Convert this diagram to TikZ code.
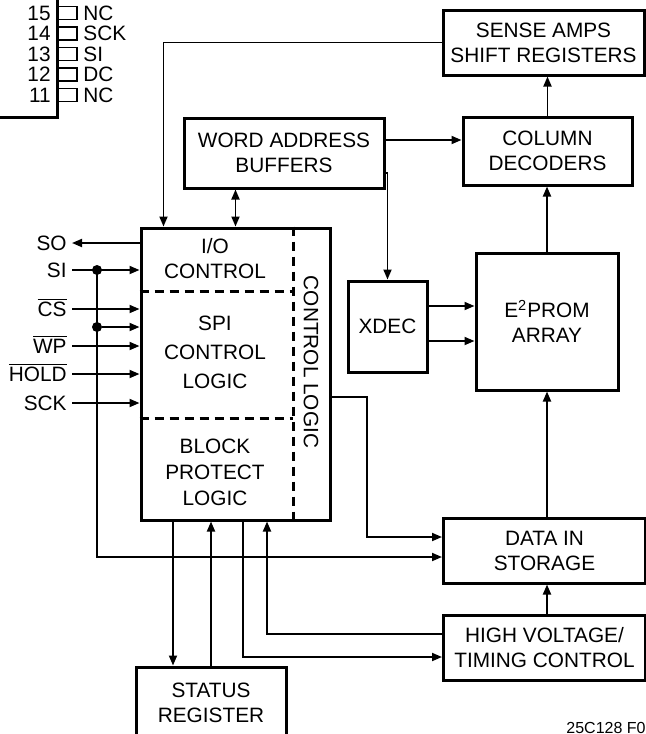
\documentclass[tikz,border=0pt]{standalone}
\usepackage{fontspec}
\setmainfont{Liberation Sans}
\usetikzlibrary{arrows.meta,positioning,calc}

\begin{document}
\begin{tikzpicture}[x=0.5pt, y=-0.5pt,
  font=\fontsize{10.4}{12.5}\selectfont,
  blk/.style={draw, line width=1.5pt, inner sep=0pt, align=center},
  divider/.style={line width=1.5pt, dash pattern=on 4.5pt off 3pt},
  wire/.style={line width=0.9pt},
  arr/.style={wire, -{Triangle[length=5pt,width=4pt]}},
  biarr/.style={wire, {Triangle[length=5pt,width=4pt]}-{Triangle[length=5pt,width=4pt]}},
  pinlbl/.style={anchor=east, inner sep=2.5pt, text height=8.5pt, text depth=1pt},
  dot/.style={circle, fill, inner sep=0pt, minimum size=5pt}]
  \useasboundingbox (0,0) rectangle (646,734);
  \clip (0,0) rectangle (646,734);
  % Device package corner
  \draw[line width=1.5pt] (57,-5) -- (57,117) -- (-5,117);
  \foreach \num/\lbl [count=\i from 0] in {15/NC,14/SCK,13/SI,12/DC,11/NC}{
    \draw[wire] (57,13+\i*20.5-6.5) -- (77,13+\i*20.5-6.5)
      -- (77,13+\i*20.5+6.5) -- (57,13+\i*20.5+6.5);
    \node[anchor=east, inner sep=2pt] (pn\num) at (55,13+\i*20.5) {\num};
    \node[anchor=west, inner sep=2pt] (pl\num) at (79,13+\i*20.5) {\lbl};
  }
  % Blocks
  \node[blk, minimum width=100.5pt, minimum height=32.5pt] (sense) at (543.5,42.5)
    {SENSE AMPS\\SHIFT REGISTERS};
  \node[blk, minimum width=100pt, minimum height=35pt] (wab) at (284,153)
    {WORD ADDRESS\\BUFFERS};
  \node[blk, minimum width=84.5pt, minimum height=34pt] (col) at (547.5,151)
    {COLUMN\\DECODERS};
  \node[blk, minimum width=39.5pt, minimum height=45.5pt] (xdec) at (387.5,326.5) {XDEC};
  \node[blk, minimum width=71pt, minimum height=68.5pt] (eep) at (547,321.5)
    {E\textsuperscript{2}PROM\\ARRAY};
  \node[blk, minimum width=94.5pt, minimum height=146pt] (ctrl) at (235.5,374) {};
  \node[blk, minimum width=101pt, minimum height=32.5pt] (data) at (544.5,550.5)
    {DATA IN\\STORAGE};
  \node[blk, minimum width=101pt, minimum height=32.5pt] (hv) at (544.5,647.5)
    {HIGH VOLTAGE/\\TIMING CONTROL};
  \node[blk, minimum width=75pt, minimum height=36pt] (status) at (211,703)
    {STATUS\\REGISTER};
  % Control block sections
  \draw[divider] (ctrl.north -| 293,0) -- (ctrl.south -| 293,0);
  \draw[divider] (ctrl.west |- 0,291) -- (293,291);
  \draw[divider] (ctrl.west |- 0,418) -- (293,418);
  \node[align=center] (io) at (215,259) {I/O\\CONTROL};
  \node[align=center, font=\fontsize{10.4}{14.5}\selectfont] (spi) at (215,352)
    {SPI\\CONTROL\\LOGIC};
  \node[align=center, font=\fontsize{10.4}{13}\selectfont] (bpl) at (215,472)
    {BLOCK\\PROTECT\\LOGIC};
  \node[rotate=-90] (cl) at (311,362) {CONTROL LOGIC};
  % Pins
  \node[pinlbl] (so) at (72,243) {SO};
  \node[pinlbl] (si) at (72,270) {SI};
  \node[pinlbl] (cs) at (72,309) {$\overline{\mbox{CS}}$};
  \node[pinlbl] (wp) at (72,346) {$\overline{\mbox{WP}}$};
  \node[pinlbl] (hold) at (72,374) {$\overline{\mbox{HOLD}}$};
  \node[pinlbl] (sck) at (72,403) {SCK};
  \node[dot] (j1) at (97,270) {};
  \node[dot] (j2) at (97,327) {};
  \draw[arr] (ctrl.west |- so.east) -- (so.east);
  \foreach \p in {si,cs,wp,hold,sck}
    \draw[arr] (\p.east) -- (ctrl.west |- \p.east);
  \draw[arr] (j2) -- (ctrl.west |- j2);
  \draw[arr] (j1.center) |- (data.west |- 0,557);
  % Top connections
  \draw[arr] (sense.west) -| ($(ctrl.north west)+(24,0)$);
  \coordinate (wabport) at ($(wab.south west)+(53,0)$);
  \draw[biarr] (wabport) -- (wabport |- ctrl.north);
  \draw[arr] (wab.east |- 0,140) -- (col.west |- 0,140);
  \draw[arr] (wab.east |- 0,173) -| (xdec.north);
  \draw[arr] (col.north) -- (sense.south -| col.north);
  \draw[arr] (eep.north) -- (col.south -| eep.north);
  \draw[arr] (xdec.east |- 0,306) -- (eep.west |- 0,306);
  \draw[arr] (xdec.east |- 0,341) -- (eep.west |- 0,341);
  \draw[arr] (data.north -| eep.south) -- (eep.south);
  \draw[arr] (hv.north -| eep.south) -- (data.south -| eep.south);
  \draw[arr] (ctrl.east |- 0,397) -- (367,397) |- (data.west |- 0,537);
  % Bottom connections
  \draw[arr] (ctrl.south -| 173,0) -- (status.north -| 173,0);
  \draw[arr] (status.north -| 211,0) -- (ctrl.south -| 211,0);
  \draw[arr] (ctrl.south -| 243,0) |- (hv.west |- 0,657);
  \draw[arr] (hv.west |- 0,634) -| (ctrl.south -| 267,0);
  \node[anchor=north west, inner sep=0pt, font=\fontsize{8}{9}\selectfont] (fig) at (566,722)
    {25C128 F0};
\end{tikzpicture}
\end{document}
